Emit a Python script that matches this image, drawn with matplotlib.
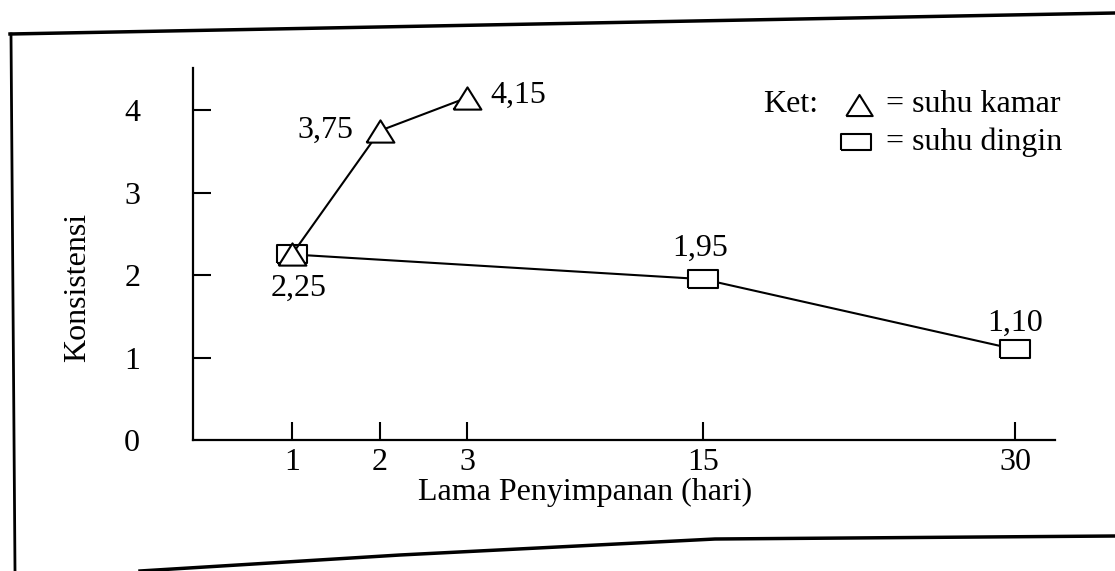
import matplotlib.pyplot as plt
import numpy as np
from matplotlib.lines import Line2D

# data
days_kamar = [1, 2, 3]
kons_kamar = [2.25, 3.75, 4.15]
days_dingin = [1, 15, 30]
kons_dingin = [2.25, 1.95, 1.10]
x_ticks = [1, 2, 3, 15, 30]
y_ticks = [0, 1, 2, 3, 4]
legend_labels = ['= suhu kamar', '= suhu dingin']

plt.rcParams['font.family'] = 'Liberation Serif'
fs = 23

# non-linear day axis, as drawn in the original
anchor_val = np.array([0, 1, 2, 3, 15, 30, 34.0])
anchor_pix = np.array([0, 99, 187, 274, 510, 822, 862.0])

def fwd(x):
    return np.interp(x, anchor_val, anchor_pix)

def inv(p):
    return np.interp(p, anchor_pix, anchor_val)

W, H = 1115, 571

def px(x, y):
    return x / W, 1 - y / H

fig = plt.figure(figsize=(11.15, 5.71), dpi=100)
ax = fig.add_axes([193 / W, 1 - 440 / H, 862 / W, 372 / H])
ax.set_xscale('function', functions=(fwd, inv))
ax.set_xlim(0, 34)
ax.set_ylim(0, 4.51)

rect = [(-1, -0.57), (1, -0.57), (1, 0.57), (-1, 0.57), (-1, -0.57)]
tri = [(-1, -0.8), (1, -0.8), (0, 0.8), (-1, -0.8)]
ax.plot(days_dingin, kons_dingin, color='black', lw=1.5, marker=rect,
        markersize=22, markerfacecolor='white', markeredgewidth=1.5, clip_on=False)
ax.plot(days_kamar, kons_kamar, color='black', lw=1.5, marker=tri,
        markersize=20, markerfacecolor='white', markeredgewidth=1.5, clip_on=False)

ax.annotate('4,15', (days_kamar[2], kons_kamar[2]), xytext=(17, 2),
            textcoords='offset points', fontsize=fs, va='center', ha='left')
ax.annotate('3,75', (days_kamar[1], kons_kamar[1]), xytext=(-19, 0),
            textcoords='offset points', fontsize=fs, va='center', ha='right')
ax.annotate('2,25', (days_dingin[0], kons_dingin[0]), xytext=(5, -14),
            textcoords='offset points', fontsize=fs, va='top', ha='center')
ax.annotate('1,95', (days_dingin[1], kons_dingin[1]), xytext=(-2, 12),
            textcoords='offset points', fontsize=fs, va='bottom', ha='center')
ax.annotate('1,10', (days_dingin[2], kons_dingin[2]), xytext=(0, 8),
            textcoords='offset points', fontsize=fs, va='bottom', ha='center')

for s in ['top', 'right']:
    ax.spines[s].set_visible(False)
for s in ['left', 'bottom']:
    ax.spines[s].set_linewidth(1.6)

ax.set_xticks(x_ticks)
ax.set_xticklabels([str(v) for v in x_ticks])
ax.set_yticks(y_ticks)
ax.set_yticklabels([str(v) for v in y_ticks])
ax.tick_params(axis='both', direction='in', length=13, width=1.5, labelsize=fs)
ax.tick_params(axis='y', pad=38)
ax.tick_params(axis='x', pad=6)
ax.yaxis.get_major_ticks()[0].tick1line.set_visible(False)

ax.set_xlabel('Lama Penyimpanan (hari)', fontsize=fs)
ax.xaxis.label.set_va('center')
ax.xaxis.set_label_coords((585 - 193) / 862, (440 - 492) / 372)
ax.set_ylabel('Konsistensi', fontsize=fs)
ax.yaxis.label.set_va('center')
ax.yaxis.set_label_coords((78 - 193) / 862, (440 - 287) / 372)

# legend ("Ket:")
fig.text(*px(763, 104), 'Ket:', fontsize=fs, va='center', ha='left')
fig.add_artist(Line2D(*zip(px(859, 105)), marker=tri, markersize=19,
                      markerfacecolor='white', markeredgecolor='black', mew=1.5))
fig.add_artist(Line2D(*zip(px(856, 142)), marker=rect, markersize=21,
                      markerfacecolor='white', markeredgecolor='black', mew=1.5))
fig.text(*px(886, 104), legend_labels[0], fontsize=fs, va='center', ha='left')
fig.text(*px(886, 142), legend_labels[1], fontsize=fs, va='center', ha='left')

# frame of the scanned page
fig.add_artist(Line2D([px(10, 34)[0], px(1115, 13)[0]], [px(10, 34)[1], px(1115, 13)[1]],
                      color='black', lw=2.5))
fig.add_artist(Line2D([px(11, 34)[0], px(15, 571)[0]], [px(11, 34)[1], px(15, 571)[1]],
                      color='black', lw=2))
bx, by = zip(px(140, 571), px(400, 555), px(715, 539), px(1115, 536))
fig.add_artist(Line2D(bx, by, color='black', lw=2.5))

fig.savefig('out.png', dpi=100)
